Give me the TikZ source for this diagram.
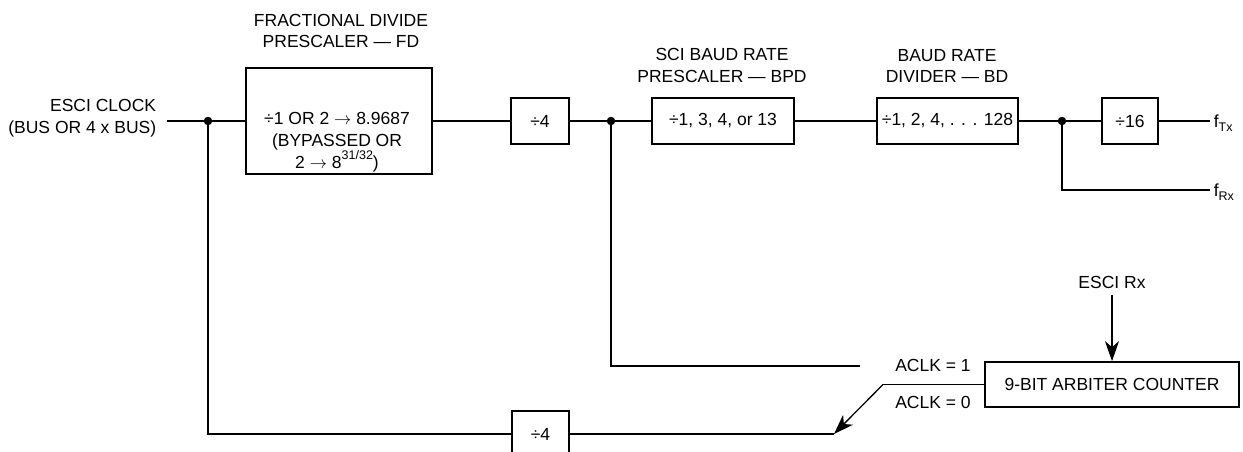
\documentclass[tikz,border=0pt]{standalone}
\usepackage{fontspec}
\setmainfont{Liberation Sans}
\usepackage{graphicx}
\usetikzlibrary{arrows.meta}
\newcommand\mysub[1]{\raisebox{-4pt}{\fontsize{12.5}{12.5}\selectfont #1}}
\newcommand\mysup[1]{\raisebox{9pt}{\fontsize{12.5}{12.5}\selectfont #1}}
\begin{document}
\begin{tikzpicture}[x=1pt,y=-1pt,
  font=\fontsize{17.5}{21.5}\selectfont,
  line width=1.7pt,
  blk/.style={draw, line width=1.7pt, inner sep=0pt, minimum height=46pt},
  lbl/.style={inner sep=0pt, align=center},
  jdot/.style={circle, fill, inner sep=0pt, minimum size=8.5pt},
  arrowline/.style={-{Stealth[length=20pt,width=14pt,inset=6pt]}, line width=1.3pt}]
\useasboundingbox (0,0) rectangle (1243,452);
\clip (0,0) rectangle (1243,452);

% input label
\node[lbl, align=right, anchor=east] (clk) at (157,118) {ESCI CLOCK\\(BUS OR 4 x BUS)};
\coordinate (cin) at (167,121);

% fractional divider
\node[lbl] (fdt) at (341,31) {FRACTIONAL DIVIDE\\PRESCALER — FD};
\node[blk, minimum width=186pt, minimum height=106pt] (fd) at (339,121) {};
\node[lbl] (fdtxt) at (337,142.5) {÷1 OR 2 $\rightarrow$ 8.9687\\(BYPASSED OR\\2 $\rightarrow$ 8\mysup{31/32})};

% chain
\node[blk, minimum width=58pt] (d4) at (540,121) {÷4};
\node[lbl] (bpdt) at (722,65.5) {SCI BAUD RATE\\PRESCALER — BPD};
\node[blk, minimum width=142pt] (bpd) at (723,121) {÷1, 3, 4, or 13};
\node[lbl] (bdt) at (947,66) {BAUD RATE\\DIVIDER — BD};
\node[blk, minimum width=141pt] (bd) at (947.5,121) {÷1, 2, 4, . . . 128};
\node[blk, minimum width=56pt] (d16) at (1130,121) {÷16};

\coordinate (ftx) at (1210,121);
\coordinate (frx) at (1210,190);
\node[anchor=base west, inner sep=0pt] (ftxl) at (1213,127) {f\mysub{Tx}};
\node[anchor=base west, inner sep=0pt] (frxl) at (1213,196) {f\mysub{Rx}};

% lower part
\node[blk, minimum width=57pt] (d4b) at (540.5,434) {÷4};
\node[blk, minimum width=254pt, minimum height=45pt] (arb) at (1112,384.5) {9-BIT ARBITER COUNTER};
\node[lbl] (rx) at (1112,282) {ESCI Rx};
\coordinate (rxs) at (1112,295);
\node[lbl] (aclk1) at (933,365) {ACLK = 1};
\node[lbl] (aclk0) at (933,402) {ACLK = 0};
\coordinate (a1) at (860,366);
\coordinate (knee) at (883,384.5);
\coordinate (tip) at (834,434);

% junctions
\node[jdot] (j1) at (208,121) {};
\node[jdot] (j2) at (611,121) {};
\node[jdot] (j3) at (1062,121) {};

% connectors
\draw (cin) -- (fd.west);
\draw (fd.east) -- (d4.west);
\draw (d4.east) -- (bpd.west);
\draw (bpd.east) -- (bd.west);
\draw (bd.east) -- (d16.west);
\draw (d16.east) -- (ftx);
\draw (j3.center) |- (frx);
\draw (j2.center) |- (a1);
\draw (j1.center) |- (d4b.west);
\draw (d4b.east) -- (tip);
\draw (arb.west) -- (knee);
\draw[arrowline] (knee) -- (tip);
\draw[arrowline] (rxs) -- (arb.north);
\end{tikzpicture}
\end{document}
